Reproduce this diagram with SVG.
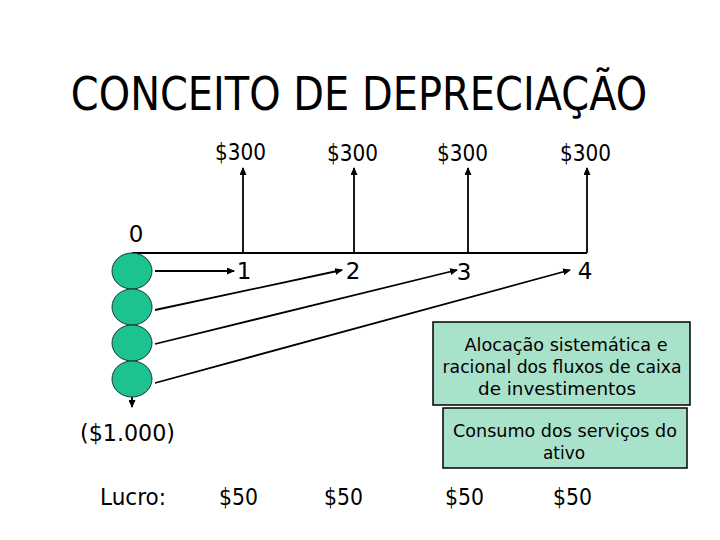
<svg xmlns="http://www.w3.org/2000/svg" width="720" height="540" viewBox="0 0 720 540">
<defs>
<style>
text{font-family:"DejaVu Sans","Liberation Sans",sans-serif;fill:#000}
.t{font-size:23px}
.b{font-size:18px;text-anchor:middle}
.c{fill:#1DC291;stroke:#1a3a2e;stroke-width:1}
.l{stroke:#000;stroke-width:1.8;fill:none}
.box{fill:#A9E2CB;stroke:#000;stroke-width:1.5}
</style>
<marker id="ah" markerWidth="8" markerHeight="7" refX="7" refY="3.5" orient="auto" markerUnits="userSpaceOnUse">
<path d="M0,0 L8,3.5 L0,7 z" fill="#000"/>
</marker>
</defs>
<rect width="720" height="540" fill="#fff"/>
<g id="title" transform="translate(359,110) scale(0.868,1)">
<text x="0" y="0" font-size="46" text-anchor="middle">CONCEITO DE DEPRECIAÇÃO</text>
</g>
<g id="timeline">
<line class="l" x1="132" y1="253" x2="587" y2="253" stroke-width="1.5"/>
</g>
<g id="connectors">
<line class="l" x1="243" y1="253" x2="243" y2="168" marker-end="url(#ah)"/>
<line class="l" x1="354" y1="253" x2="354" y2="168" marker-end="url(#ah)"/>
<line class="l" x1="468" y1="253" x2="468" y2="168" marker-end="url(#ah)"/>
<line class="l" x1="587" y1="253" x2="587" y2="168" marker-end="url(#ah)"/>
<line class="l" x1="155" y1="271" x2="234" y2="271" marker-end="url(#ah)"/>
<line class="l" x1="155" y1="310" x2="342" y2="270" marker-end="url(#ah)"/>
<line class="l" x1="155" y1="344" x2="457" y2="270" marker-end="url(#ah)"/>
<line class="l" x1="155" y1="383" x2="570" y2="270" marker-end="url(#ah)"/>
<line class="l" x1="132" y1="397" x2="132" y2="407" stroke-width="1.5" marker-end="url(#ah)"/>
</g>
<g id="node-c1"><ellipse class="c" cx="132" cy="271" rx="20" ry="18"/></g>
<g id="node-c2"><ellipse class="c" cx="132" cy="307" rx="20" ry="18"/></g>
<g id="node-c3"><ellipse class="c" cx="132" cy="343" rx="20" ry="18"/></g>
<g id="node-c4"><ellipse class="c" cx="132" cy="379" rx="20" ry="18"/></g>
<g id="labels-top">
<text class="t" x="215" y="160" textLength="51" lengthAdjust="spacingAndGlyphs">$300</text>
<text class="t" x="327" y="161" textLength="51" lengthAdjust="spacingAndGlyphs">$300</text>
<text class="t" x="437" y="161" textLength="51" lengthAdjust="spacingAndGlyphs">$300</text>
<text class="t" x="560" y="161" textLength="51" lengthAdjust="spacingAndGlyphs">$300</text>
<text class="t" x="136" y="242" text-anchor="middle">0</text>
<text class="t" x="244" y="279" text-anchor="middle">1</text>
<text class="t" x="353" y="279" text-anchor="middle">2</text>
<text class="t" x="464" y="280" text-anchor="middle">3</text>
<text class="t" x="585" y="279" text-anchor="middle">4</text>
</g>
<g id="box-alocacao">
<rect class="box" x="433" y="322" width="257" height="83"/>
<text class="b" x="566" y="351" textLength="203" lengthAdjust="spacingAndGlyphs">Alocação sistemática e</text>
<text class="b" x="562" y="373" textLength="239" lengthAdjust="spacingAndGlyphs">racional dos fluxos de caixa</text>
<text class="b" x="557" y="395" textLength="158" lengthAdjust="spacingAndGlyphs">de investimentos</text>
</g>
<g id="box-consumo">
<rect class="box" x="443" y="408" width="244" height="60"/>
<text class="b" x="565" y="437" textLength="224" lengthAdjust="spacingAndGlyphs">Consumo dos serviços do</text>
<text class="b" x="564" y="459" textLength="42" lengthAdjust="spacingAndGlyphs">ativo</text>
</g>
<g id="labels-bottom">
<text class="t" x="80" y="441" textLength="95" lengthAdjust="spacingAndGlyphs">($1.000)</text>
<text class="t" x="100" y="505" textLength="66" lengthAdjust="spacingAndGlyphs">Lucro:</text>
<text class="t" x="219" y="505" textLength="39" lengthAdjust="spacingAndGlyphs">$50</text>
<text class="t" x="324" y="505" textLength="39" lengthAdjust="spacingAndGlyphs">$50</text>
<text class="t" x="445" y="505" textLength="39" lengthAdjust="spacingAndGlyphs">$50</text>
<text class="t" x="553" y="505" textLength="39" lengthAdjust="spacingAndGlyphs">$50</text>
</g>
</svg>
